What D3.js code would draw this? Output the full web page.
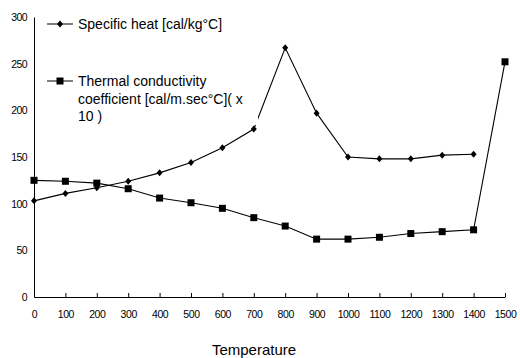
<!DOCTYPE html>
<html>
<head>
<meta charset="utf-8">
<script src="https://cdn.jsdelivr.net/npm/d3@7"></script>
<style>
  body { margin: 0; background: #fff; }
  svg { display: block; font-family: 'Liberation Sans', Arial, sans-serif; }
</style>
</head>
<body>
<svg id="chart" width="520" height="358"></svg>
<script>
// temperature categories (x axis)
const temps = ['0', '100', '200', '300', '400', '500', '600', '700',
    '800', '900', '1000', '1100', '1200', '1300', '1400', '1500'];
// specific heat [cal/kg°C], no value at 1500
const specificHeat = [103, 111, 117, 124, 133, 144, 160, 180,
    267, 197, 150, 148, 148, 152, 153, null];
// thermal conductivity coefficient x 10
const thermal = [125, 124, 122, 116, 106, 101, 95, 85,
    76, 62, 62, 64, 68, 70, 72, 252];
const yTicks = [0, 50, 100, 150, 200, 250, 300];

const margin = { left: 34, right: 15, top: 17, bottom: 61 };
const width = 520, height = 358;

const svg = d3.select('#chart');

const x = d3.scalePoint()
    .domain(temps)
    .range([margin.left, width - margin.right]);
const y = d3.scaleLinear()
    .domain([0, 300])
    .range([height - margin.bottom, margin.top]);

// x axis: ticks point up, labels below
const xAxis = svg.append('g')
    .attr('transform', `translate(0, ${y(0)})`)
    .call(d3.axisBottom(x).tickSizeInner(-4).tickSizeOuter(0).tickPadding(14));
xAxis.select('.domain').attr('stroke', '#000');
xAxis.selectAll('.tick line').attr('stroke', '#000');
xAxis.selectAll('.tick text')
    .attr('fill', '#000')
    .style('font-size', '10.5px')
    .style('letter-spacing', '-0.4px');

// y axis: line only, labels on the left
const yAxis = svg.append('g')
    .attr('transform', `translate(${margin.left}, 0)`)
    .call(d3.axisLeft(y).tickValues(yTicks).tickSize(0).tickPadding(7).tickFormat(d3.format('d')));
yAxis.select('.domain').attr('stroke', '#000');
yAxis.selectAll('.tick text')
    .attr('fill', '#000')
    .style('font-size', '10.5px')
    .style('letter-spacing', '-0.6px');

svg.append('text')
    .attr('x', 254)
    .attr('y', 355)
    .attr('text-anchor', 'middle')
    .style('font-size', '15px')
    .text('Temperature');

const line = d3.line()
    .defined(d => d.v !== null)
    .x(d => x(d.t))
    .y(d => y(d.v));

const heatData = temps.map((t, i) => ({ t, v: specificHeat[i] }));
const thermData = temps.map((t, i) => ({ t, v: thermal[i] }));

svg.append('path')
    .datum(thermData)
    .attr('fill', 'none')
    .attr('stroke', '#000')
    .attr('stroke-width', 1.1)
    .attr('d', line);
svg.append('path')
    .datum(heatData)
    .attr('fill', 'none')
    .attr('stroke', '#000')
    .attr('stroke-width', 1.1)
    .attr('d', line);

const diamond = (g, cx, cy) => g.append('path')
    .attr('d', `M${cx},${cy - 3.5}L${cx + 3},${cy}L${cx},${cy + 3.5}L${cx - 3},${cy}Z`)
    .attr('fill', '#000');
const square = (g, cx, cy) => g.append('rect')
    .attr('x', cx - 3.5).attr('y', cy - 3.5)
    .attr('width', 7).attr('height', 7)
    .attr('fill', '#000');

const marks = svg.append('g');
thermData.forEach(d => square(marks, x(d.t), y(d.v)));
heatData.filter(d => d.v !== null).forEach(d => diamond(marks, x(d.t), y(d.v)));

// legend, drawn over the plot with a white box
const legend = svg.append('g');
legend.append('rect')
    .attr('x', 40).attr('y', 8)
    .attr('width', 218).attr('height', 117)
    .attr('fill', '#fff');

legend.append('line')
    .attr('x1', 47).attr('x2', 73).attr('y1', 24).attr('y2', 24)
    .attr('stroke', '#000');
diamond(legend, 60, 24);
legend.append('text')
    .attr('x', 78).attr('y', 29)
    .style('font-size', '14px')
    .text('Specific heat [cal/kg°C]');

legend.append('line')
    .attr('x1', 47).attr('x2', 73).attr('y1', 81).attr('y2', 81)
    .attr('stroke', '#000');
square(legend, 60, 81);
const lt = legend.append('text')
    .attr('x', 78).attr('y', 86)
    .style('font-size', '14px');
['Thermal conductivity', 'coefficient [cal/m.sec°C]( x', '10 )'].forEach((s, i) => {
    lt.append('tspan')
        .attr('x', 78)
        .attr('dy', i === 0 ? 0 : 17.5)
        .text(s);
});
</script>
</body>
</html>
